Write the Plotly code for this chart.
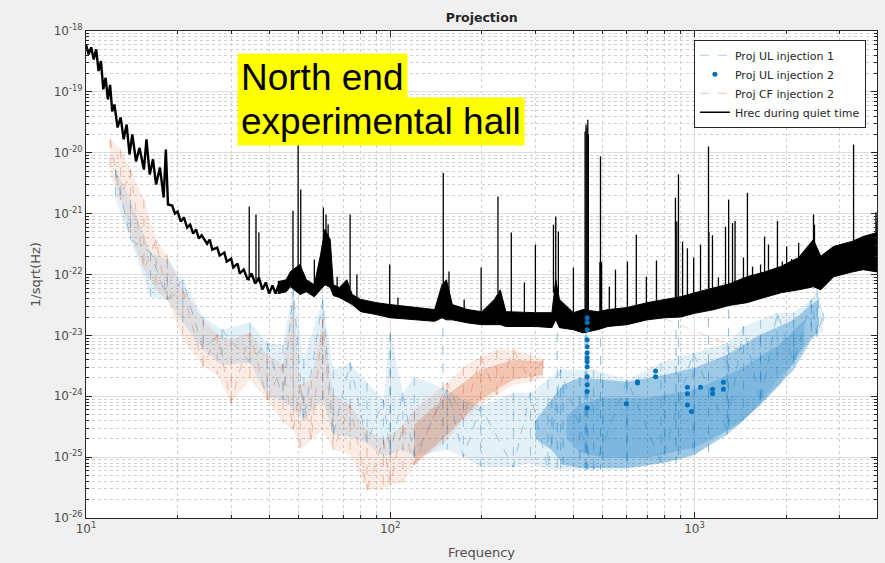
import plotly.graph_objects as go

# ---------------- data ----------------
# Hrec during quiet time, low-frequency part (a thin, jagged trace)
hrec_low_freq = [10.0, 10.2, 10.4, 10.6, 10.8, 11.0, 11.2, 11.4, 11.6, 11.8, 12.0, 12.2, 12.4,
                 12.7, 13.0, 13.3, 13.6, 13.9, 14.2, 14.6, 15.0, 15.5, 15.8, 16.2, 16.6, 17.0,
                 17.5, 18.0, 18.3, 18.6, 19.2, 19.6, 20.0, 20.5, 21.0, 21.5, 22.0, 22.5, 23.0,
                 23.5, 24.0, 25.0, 25.5, 26.0, 27.0, 27.5, 28.5, 29.0, 30.0, 30.5, 31.5, 32.0,
                 33.0, 34.0, 35.0, 36.0, 37.0, 38.0, 39.0, 40.0, 41.0, 42.0, 43.0]
hrec_low_amp = [6.0e-19, 4.1e-19, 5.4e-19, 3.4e-19, 5.0e-19, 2.2e-19, 3.2e-19, 1.1e-19, 1.7e-19,
                7.5e-20, 1.3e-19, 4.8e-20, 6.2e-20, 2.6e-20, 3.8e-20, 1.66e-20, 2.9e-20, 9.4e-21,
                2.0e-20, 7.2e-21, 1.2e-20, 5.3e-21, 1.66e-20, 4.4e-21, 7.8e-21, 3.0e-21, 5.7e-21,
                1.84e-21, 1.13e-20, 1.41e-21, 1.36e-21, 1.0e-21, 1.08e-21, 7.4e-22, 8.6e-22,
                5.9e-22, 6.6e-22, 4.7e-22, 5.5e-22, 3.9e-22, 4.4e-22, 3.2e-22, 3.75e-22, 2.56e-22,
                2.77e-22, 2.05e-22, 2.29e-22, 1.63e-22, 1.82e-22, 1.3e-22, 1.51e-22, 1.04e-22,
                1.2e-22, 8.2e-23, 1.04e-22, 7.1e-23, 8.9e-23, 5.65e-23, 7.4e-23, 4.85e-23,
                6.6e-23, 4.85e-23, 6.8e-23]

# Hrec floor band above 40 Hz (upper / lower edge of the dense noisy trace)
hrec_freq = [42.7, 45.5, 47.0, 50.5, 53.0, 56.3, 59.0, 61.0, 63.5, 65.0, 68.0, 72.0, 75.0,
             80.0, 90.0, 100, 120, 140, 148, 153, 160, 180, 200, 220, 230, 240, 300, 340, 350,
             360, 400, 430, 480, 520, 600, 700, 800, 900, 1000, 1160, 1300, 1490, 1700, 1920,
             2200, 2460, 2600, 2870, 3300, 3580, 4000]
hrec_upper = [7.6e-23, 8.2e-23, 1.12e-22, 1.46e-22, 8.2e-23, 6.8e-23, 2.1e-22, 5.5e-22, 3.75e-22,
              6.8e-23, 6.1e-23, 8.2e-23, 4.7e-23, 3.9e-23, 3.45e-23, 3.2e-23, 2.9e-23, 2.65e-23,
              6.8e-23, 8.2e-23, 3.2e-23, 2.65e-23, 2.45e-23, 3.9e-23, 5.6e-23, 2.45e-23,
              2.36e-23, 2.36e-23, 8.2e-23, 3.9e-23, 2.36e-23, 2.65e-23, 2.45e-23, 2.65e-23,
              2.86e-23, 3.45e-23, 3.9e-23, 4.3e-23, 5.0e-23, 6.1e-23, 7.0e-23, 9.2e-23, 1.1e-22,
              1.35e-22, 1.9e-22, 3.75e-22, 2.0e-22, 2.9e-22, 3.5e-22, 4.2e-22, 4.9e-22]
hrec_lower = [4.85e-23, 5.2e-23, 6.3e-23, 4.7e-23, 5.2e-23, 4.3e-23, 5.6e-23, 6.8e-23, 6.1e-23,
              4.5e-23, 4.2e-23, 3.6e-23, 3.2e-23, 2.45e-23, 2.2e-23, 1.95e-23, 1.8e-23, 1.7e-23,
              1.95e-23, 1.8e-23, 1.8e-23, 1.6e-23, 1.5e-23, 1.5e-23, 1.5e-23, 1.4e-23, 1.4e-23,
              1.34e-23, 1.8e-23, 1.34e-23, 1.24e-23, 1.1e-23, 1.24e-23, 1.4e-23, 1.5e-23,
              1.8e-23, 1.95e-23, 2.0e-23, 2.3e-23, 2.65e-23, 3.1e-23, 3.45e-23, 4.2e-23, 5.0e-23,
              5.6e-23, 6.3e-23, 5.6e-23, 9.2e-23, 1.1e-22, 1.2e-22, 1.1e-22]

# Hrec narrow spectral lines
line_freq = [34.4, 36.2, 37.0, 47.9, 49.8, 50.8, 56.3, 60.3, 61.5, 62.5, 66.9, 73.8, 77.7, 99.6,
             106, 149.4, 156, 175, 199, 226, 250, 276, 300, 344, 350, 357, 400, 437, 440, 443,
             446, 448, 489, 491, 493, 495, 525, 550, 602, 644, 695, 750, 866, 875, 886, 914, 948,
             994, 1047, 1112, 1115, 1146, 1199, 1265, 1295, 1334, 1360, 1449, 1493, 1552, 1649,
             1700, 1751, 1874, 1944, 2009, 2086, 2200, 2355, 2462, 2480, 3334, 3950, 3980]
line_top = [1.31e-21, 9.7e-22, 4.9e-22, 1.12e-21, 2.0e-20, 2.5e-21, 1.76e-22, 1.26e-21, 9.7e-22,
            6.6e-22, 9.2e-23, 9.7e-22, 1.0e-22, 1.46e-22, 4.2e-23, 4.7e-21, 1.12e-22, 3.9e-23,
            1.3e-22, 1.91e-21, 4.9e-22, 7.4e-23, 3.1e-22, 6.6e-22, 8.9e-22, 5.1e-22, 1.3e-22,
            2.24e-20, 2.9e-20, 2.6e-20, 3.5e-20, 2.0e-20, 1.6e-22, 8.7e-21, 1.57e-22, 1.6e-22,
            6.3e-23, 1.2e-22, 1.63e-22, 4.5e-22, 9.2e-23, 1.7e-22, 1.83e-21, 7.4e-22, 4.4e-21,
            3.47e-22, 2.7e-22, 1.9e-22, 3.1e-22, 1.27e-20, 5.0e-22, 4.4e-22, 8.9e-23, 6.1e-22,
            1.7e-21, 7.0e-22, 7.6e-22, 1.9e-22, 2.2e-21, 1.35e-22, 1.46e-22, 4.2e-22, 3.1e-22,
            7.6e-22, 1.63e-22, 2.9e-22, 1.8e-22, 3.3e-22, 2.4e-22, 9.7e-22, 6.6e-22, 1.36e-20,
            1.05e-21, 7.4e-22]
line_base = [8.0e-23, 8.0e-23, 7.5e-23, 1.0e-22, 1.2e-22, 1.0e-22, 6.0e-23, 2.0e-22, 2.0e-22,
             2.0e-22, 5.0e-23, 6.0e-23, 4.0e-23, 3.0e-23, 2.8e-23, 5.0e-23, 4.0e-23, 2.5e-23,
             2.5e-23, 5.0e-23, 2.4e-23, 2.4e-23, 2.4e-23, 5.0e-23, 5.0e-23, 5.0e-23, 2.4e-23,
             1.2e-23, 1.2e-23, 1.2e-23, 1.2e-23, 1.2e-23, 1.5e-23, 1.5e-23, 1.5e-23, 1.5e-23,
             2.5e-23, 2.5e-23, 2.5e-23, 2.5e-23, 2.5e-23, 2.5e-23, 3.0e-23, 3.0e-23, 3.0e-23,
             3.0e-23, 3.0e-23, 3.0e-23, 3.0e-23, 3.0e-23, 3.0e-23, 3.5e-23, 3.5e-23, 3.5e-23,
             3.5e-23, 3.5e-23, 3.5e-23, 4.0e-23, 4.0e-23, 4.0e-23, 4.5e-23, 5.0e-23, 5.0e-23,
             5.5e-23, 5.5e-23, 6.0e-23, 6.0e-23, 6.0e-23, 6.5e-23, 7.0e-23, 7.0e-23, 1.5e-22,
             1.5e-22, 1.5e-22]

# Proj UL injection 1: overall spread, the dense core above 330 Hz and its densest part
ul1_freq = [12.5, 14, 16.3, 18.5, 20.8, 24.3, 28, 34.6, 39.4, 44.4, 48, 52, 60, 65, 73.8, 83.9,
            95, 100, 110, 120, 154, 174, 198, 254, 289, 330, 363, 466, 601, 776, 990, 1280,
            1450, 1650, 1870, 2120, 2420, 2530, 2650]
ul1_upper = [5.3e-21, 1.7e-21, 2.3e-22, 1.76e-22, 8.2e-23, 2.03e-23, 1.24e-23, 1.62e-23, 7.6e-24,
             7.0e-24, 5.65e-23, 4.0e-24, 3.86e-23, 2.73e-24, 3.56e-24, 1.67e-24, 8.75e-25,
             1.11e-23, 1.14e-24, 2.09e-24, 1.28e-24, 8.75e-25, 6.8e-25, 1.14e-24, 1.14e-24,
             1.87e-24, 2.73e-24, 2.73e-24, 1.87e-24, 3.56e-24, 5.2e-24, 7.6e-24, 1.39e-23,
             1.81e-23, 2.36e-23, 2.36e-23, 3.86e-23, 5.65e-23, 2.36e-23]
ul1_lower = [1.7e-21, 3.75e-22, 4.3e-23, 3.86e-23, 1.62e-23, 5.8e-24, 3.3e-24, 3.56e-24, 9.8e-25,
             8.75e-25, 6.0e-25, 4.1e-25, 8.75e-25, 2.33e-25, 2.16e-25, 1.72e-25, 1.01e-25,
             1.09e-25, 1.32e-25, 1.01e-25, 1.32e-25, 1.01e-25, 6.9e-26, 6.9e-26, 8.05e-26,
             6.2e-26, 6.2e-26, 6.2e-26, 6.2e-26, 8.05e-26, 1.01e-25, 2.81e-25, 4.1e-25, 7.8e-25,
             1.87e-24, 3.56e-24, 9.5e-24, 9.5e-24, 1.24e-23]
ul1_core_freq = [300, 340, 370, 420, 500, 600, 800, 1000, 1280, 1650, 2120, 2420, 2550]
ul1_core_upper = [4.0e-25, 9.0e-25, 1.55e-24, 2.02e-24, 1.87e-24, 1.73e-24, 2.26e-24, 2.94e-24,
                  4.8e-24, 1.03e-23, 1.81e-23, 3.2e-23, 3.86e-23]
ul1_core_lower = [2.0e-25, 1.3e-25, 7.46e-26, 6.6e-26, 6.6e-26, 6.6e-26, 8.05e-26, 1.09e-25,
                  2.33e-25, 7.2e-25, 2.73e-24, 8.5e-24, 1.15e-23]
ul1_dense_freq = [380, 420, 500, 700, 1000, 1400, 1900, 2300]
ul1_dense_upper = [4.5e-25, 7.5e-25, 9.4e-25, 9.4e-25, 1.28e-24, 2.73e-24, 7.0e-24, 1.81e-23]
ul1_dense_lower = [2.0e-25, 1.2e-25, 9.75e-26, 9.75e-26, 1.42e-25, 3.4e-25, 1.55e-24, 7.0e-24]
ul1_line_freq = [100, 149, 354, 437, 440, 443, 446, 491, 870, 886, 1112, 1295]
ul1_line_top = [1.11e-23, 2.65e-23, 1.1e-23, 1.95e-23, 2.2e-23, 1.95e-23, 1.8e-23, 1.8e-23,
                1.24e-23, 1.8e-23, 1.95e-23, 2.65e-23]
ul1_line_bottom = [1.3e-25, 1.3e-25, 6.2e-26, 6.2e-26, 6.2e-26, 6.2e-26, 6.2e-26, 6.2e-26,
                   8.0e-26, 8.0e-26, 1.0e-25, 2.8e-25]

# Proj UL injection 2 (isolated points)
ul2_freq = [444, 444, 444, 444, 444, 444, 444, 444, 444, 444, 444, 444, 444,
            597, 650, 650, 745, 745, 948, 948, 948, 977, 1047, 1147, 1147, 1245, 1245]
ul2_amp = [1.95e-23, 1.62e-23, 1.24e-23, 8.5e-24, 6.5e-24, 5.2e-24, 4.3e-24, 3.7e-24, 3.05e-24,
           2.1e-24, 1.55e-24, 1.2e-24, 6.5e-25,
           7.5e-25, 1.73e-24, 1.65e-24, 2.6e-24, 2.1e-24, 1.4e-24, 1.1e-24, 7.2e-25, 5.6e-25,
           1.4e-24, 1.3e-24, 1.1e-24, 1.7e-24, 1.3e-24]

# Proj CF injection 2
cf2_freq = [12.0, 13.0, 14.0, 15.5, 17.0, 18.5, 20.8, 24.3, 27, 30, 34.6, 39.4, 44.4, 48, 50.6,
            55, 60, 65, 73.8, 83.9, 95, 100, 110, 120, 154, 174, 198, 224, 254, 289, 318]
cf2_upper = [1.66e-20, 1.13e-20, 5.3e-21, 1.7e-21, 3.75e-22, 2.1e-22, 5.65e-23, 1.81e-23, 1.03e-23,
             8.5e-24, 1.11e-23, 4.8e-24, 3.3e-24, 3.86e-23, 1.55e-24, 1.87e-24, 1.81e-23, 1.06e-24,
             7.2e-25, 2.81e-25, 1.93e-25, 2.3e-25, 3.4e-25, 6.0e-25, 1.67e-24, 3.05e-24, 4.47e-24,
             5.8e-24, 5.8e-24, 4.8e-24, 4.0e-24]
cf2_lower = [4.4e-21, 1.7e-21, 4.5e-22, 1.2e-22, 5.65e-23, 3.86e-23, 8.5e-24, 3.05e-24, 2.26e-24,
             7.8e-25, 1.87e-24, 8.75e-25, 3.67e-25, 2.81e-25, 1.32e-25, 1.93e-25, 2.81e-25,
             1.32e-25, 1.09e-25, 2.9e-26, 2.9e-26, 3.5e-26, 3.78e-26, 7.46e-26, 1.93e-25, 4.1e-25,
             7.2e-25, 1.06e-24, 1.55e-24, 1.73e-24, 2.02e-24]
cf2_core_freq = [120, 154, 198, 254, 318]
cf2_core_upper = [3.4e-25, 1.06e-24, 2.73e-24, 4.0e-24, 3.7e-24]
cf2_core_lower = [7.46e-26, 2.33e-25, 8.75e-25, 1.87e-24, 2.26e-24]
cf2_tail_freq = [330, 1416]
cf2_tail_amp = [1.16e-22, 5.8e-24]

x_tick_vals = [10, 100, 1000]
x_tick_text = ["10<sup>1</sup>", "10<sup>2</sup>", "10<sup>3</sup>"]
y_tick_vals = [1e-26, 1e-25, 1e-24, 1e-23, 1e-22, 1e-21, 1e-20, 1e-19, 1e-18]
y_tick_text = ["10<sup>-26</sup>", "10<sup>-25</sup>", "10<sup>-24</sup>", "10<sup>-23</sup>",
               "10<sup>-22</sup>", "10<sup>-21</sup>", "10<sup>-20</sup>", "10<sup>-19</sup>",
               "10<sup>-18</sup>"]


# ---------------- helpers ----------------
def polygon(f, up, lo):
    return list(f) + list(f)[::-1], list(up) + list(lo)[::-1]


def zigzag(f, up, lo):
    xs, ys = [], []
    for i, fr in enumerate(f):
        xs.append(fr)
        ys.append(up[i] if i % 2 == 0 else lo[i])
    return xs, ys


def strokes(f, a, b):
    xs, ys = [], []
    for fr, t, u in zip(f, a, b):
        xs += [fr, fr, None]
        ys += [t, u, None]
    return xs, ys


BLUE = "0,114,189"
RED = "217,83,25"
FONT = "DejaVu Sans"

fig = go.Figure()


def add_fill(f, up, lo, color, alpha):
    px, py = polygon(f, up, lo)
    fig.add_trace(go.Scatter(x=px, y=py, fill="toself", mode="lines", line=dict(width=0),
                             fillcolor=f"rgba({color},{alpha})", showlegend=False,
                             hoverinfo="skip"))


def add_strokes(f, a, b, color, alpha):
    sx, sy = strokes(f, a, b)
    fig.add_trace(go.Scatter(x=sx, y=sy, mode="lines", showlegend=False, hoverinfo="skip",
                             line=dict(color=f"rgba({color},{alpha})", width=1, dash="dash")))


# CF injection 2 and UL injection 1 bodies
add_fill(cf2_freq, cf2_upper, cf2_lower, RED, 0.11)
add_fill(cf2_core_freq, cf2_core_upper, cf2_core_lower, RED, 0.25)
add_fill(ul1_freq, ul1_upper, ul1_lower, BLUE, 0.11)
add_fill(ul1_core_freq, ul1_core_upper, ul1_core_lower, BLUE, 0.30)
add_fill(ul1_dense_freq, ul1_dense_upper, ul1_dense_lower, BLUE, 0.20)

# dashed textures
add_strokes(cf2_freq, cf2_upper, cf2_lower, RED, 0.35)
add_strokes(ul1_freq, ul1_upper, ul1_lower, BLUE, 0.35)
add_strokes(ul1_core_freq, ul1_core_upper, ul1_core_lower, BLUE, 0.45)
add_strokes(ul1_line_freq, ul1_line_top, ul1_line_bottom, BLUE, 0.45)

zx, zy = zigzag(ul1_freq, ul1_upper, ul1_lower)
fig.add_trace(go.Scatter(x=zx, y=zy, mode="lines", name="Proj UL injection 1",
                         line=dict(color=f"rgba({BLUE},0.35)", width=1, dash="dash"),
                         legendrank=1))
zx, zy = zigzag(cf2_freq, cf2_upper, cf2_lower)
fig.add_trace(go.Scatter(x=zx, y=zy, mode="lines", name="Proj CF injection 2",
                         line=dict(color=f"rgba({RED},0.35)", width=1, dash="dash"),
                         legendrank=3))
fig.add_trace(go.Scatter(x=cf2_tail_freq, y=cf2_tail_amp, mode="lines", showlegend=False,
                         hoverinfo="skip",
                         line=dict(color=f"rgba({RED},0.25)", width=1, dash="dash")))

# Hrec
px, py = polygon(hrec_freq, hrec_upper, hrec_lower)
fig.add_trace(go.Scatter(x=px, y=py, fill="toself", mode="lines", showlegend=False,
                         line=dict(color="black", width=1), fillcolor="black", hoverinfo="skip"))
fig.add_trace(go.Scatter(x=hrec_low_freq, y=hrec_low_amp, mode="lines", showlegend=False,
                         line=dict(color="black", width=2.4), hoverinfo="skip"))
sx, sy = strokes(line_freq, line_top, line_base)
fig.add_trace(go.Scatter(x=sx, y=sy, mode="lines", name="Hrec during quiet time",
                         line=dict(color="black", width=1.3), legendrank=4))

# UL injection 2
fig.add_trace(go.Scatter(x=ul2_freq, y=ul2_amp, mode="markers", name="Proj UL injection 2",
                         marker=dict(color=f"rgb({BLUE})", size=5), legendrank=2))

minor_x = [k * 10 ** n for n in range(1, 4) for k in range(2, 10) if k * 10 ** n <= 4000]
minor_y = [k * 10.0 ** n for n in range(-26, -18) for k in range(2, 10)]

axis_common = dict(showline=True, linecolor="#262626", linewidth=1, mirror="allticks",
                   ticks="inside", ticklen=6, tickcolor="#262626", automargin=False,
                   showgrid=True, gridcolor="#dedede", gridwidth=1, zeroline=False,
                   tickfont=dict(family=FONT, size=12, color="#4d4d4d"))

fig.update_xaxes(type="log", range=[1, 3.6], tickmode="array", tickvals=x_tick_vals,
                 ticktext=x_tick_text,
                 title=dict(text="Frequency", font=dict(family=FONT, size=13, color="#4d4d4d"),
                            standoff=12),
                 minor=dict(tickmode="array", tickvals=minor_x, ticks="inside", ticklen=3,
                            tickcolor="#262626", showgrid=True, gridcolor="#cfcfcf",
                            griddash="dot", gridwidth=1),
                 **axis_common)
fig.update_yaxes(type="log", range=[-26, -18], tickmode="array", tickvals=y_tick_vals,
                 ticktext=y_tick_text,
                 title=dict(text="1/sqrt(Hz)", font=dict(family=FONT, size=13, color="#4d4d4d"),
                            standoff=10),
                 minor=dict(tickmode="array", tickvals=minor_y, ticks="inside", ticklen=3,
                            tickcolor="#262626", showgrid=True, gridcolor="#cfcfcf",
                            griddash="dot", gridwidth=1),
                 **axis_common)

fig.update_layout(
    width=885, height=563,
    margin=dict(l=86, r=8, t=31, b=45),
    paper_bgcolor="#f0f0f0", plot_bgcolor="white",
    title=dict(text="<b>Projection</b>", x=0.5443, xanchor="center", y=0.968, yanchor="middle",
               font=dict(family=FONT, size=12.5, color="#262626")),
    legend=dict(x=0.986, xanchor="right", y=0.982, yanchor="top", bgcolor="white",
                bordercolor="#262626", borderwidth=1,
                font=dict(family=FONT, size=11, color="#262626"), traceorder="normal"),
    annotations=[
        dict(text="North end", xref="paper", yref="paper", x=0.1909, y=0.9045,
             xanchor="left", yanchor="middle", showarrow=False, bgcolor="#ffff00", borderpad=3,
             font=dict(family="Liberation Sans", size=37, color="black")),
        dict(text="experimental hall", xref="paper", yref="paper", x=0.1909, y=0.8142,
             xanchor="left", yanchor="middle", showarrow=False, bgcolor="#ffff00", borderpad=3,
             font=dict(family="Liberation Sans", size=37, color="black")),
    ],
)

fig.write_html("out.html", config={"displayModeBar": False},
               post_script="document.body.style.margin='0px';")
